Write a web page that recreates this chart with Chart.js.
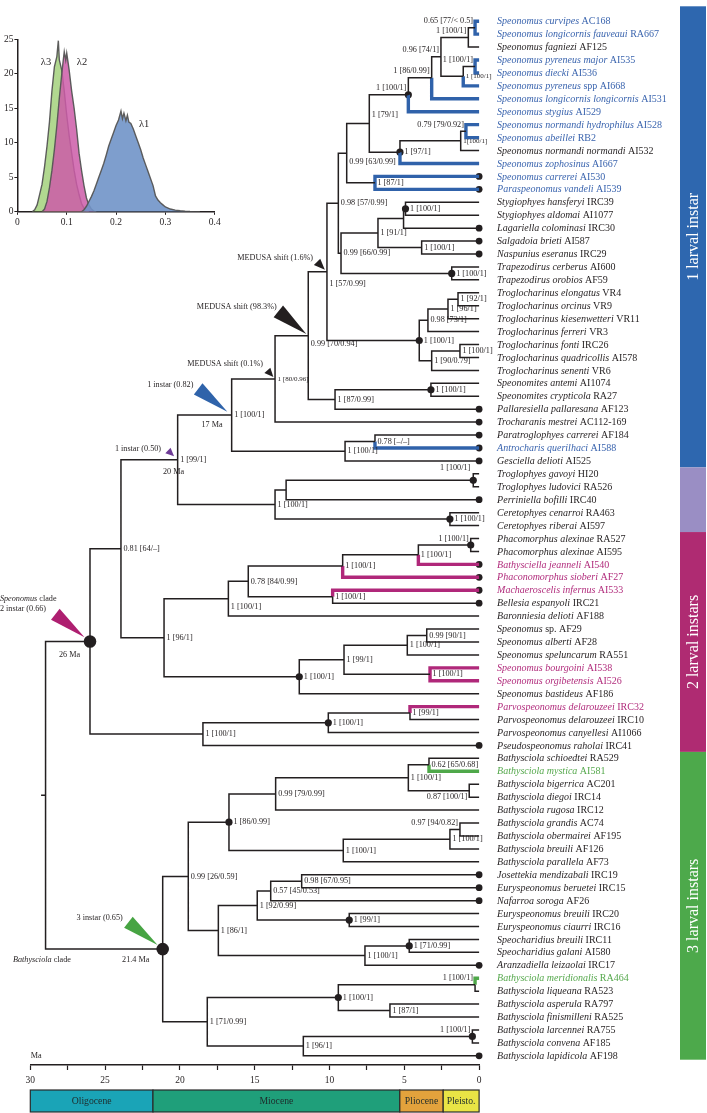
<!DOCTYPE html>
<html><head><meta charset="utf-8">
<script src="https://cdn.jsdelivr.net/npm/chart.js@4/dist/chart.umd.min.js"></script>
<style>
html,body{margin:0;padding:0;background:#fff;}
#wrap{position:relative;width:707px;height:1113px;overflow:hidden;}
#tree{position:absolute;left:0;top:0;}
#inset{position:absolute;left:0;top:0;}
</style></head><body>
<div id="wrap"><canvas id="tree" width="707" height="1113"></canvas><canvas id="inset" width="232" height="232"></canvas></div>
<script>
// ===================== DATA =====================
const tipTaxa = ['Speonomus curvipes','Speonomus longicornis fauveaui','Speonomus fagniezi','Speonomus pyreneus major','Speonomus diecki','Speonomus pyreneus','Speonomus longicornis longicornis','Speonomus stygius','Speonomus normandi hydrophilus','Speonomus abeillei','Speonomus normandi normandi','Speonomus zophosinus','Speonomus carrerei','Paraspeonomus vandeli','Stygiophyes hansferyi','Stygiophyes aldomai','Lagariella colominasi','Salgadoia brieti','Naspunius eseranus','Trapezodirus cerberus','Trapezodirus orobios','Troglocharinus elongatus','Troglocharinus orcinus','Troglocharinus kiesenwetteri','Troglocharinus ferreri','Troglocharinus fonti','Troglocharinus quadricollis','Troglocharinus senenti','Speonomites antemi','Speonomites crypticola','Pallaresiella pallaresana','Trocharanis mestrei','Paratroglophyes carrerei','Antrocharis querilhaci','Gesciella delioti','Troglophyes gavoyi','Troglophyes ludovici','Perriniella bofilli','Ceretophyes cenarroi','Ceretophyes riberai','Phacomorphus alexinae','Phacomorphus alexinae','Bathysciella jeanneli','Phaconomorphus sioberi','Machaeroscelis infernus','Bellesia espanyoli','Baronniesia delioti','Speonomus','Speonomus alberti','Speonomus speluncarum','Speonomus bourgoini','Speonomus orgibetensis','Speonomus bastideus','Parvospeonomus delarouzeei','Parvospeonomus delarouzeei','Parvospeonomus canyellesi','Pseudospeonomus raholai','Bathysciola schioedtei','Bathysciola mystica','Bathysciola bigerrica','Bathysciola diegoi','Bathysciola rugosa','Bathysciola grandis','Bathysciola obermairei','Bathysciola breuili','Bathysciola parallela','Josettekia mendizabali','Euryspeonomus beruetei','Nafarroa soroga','Euryspeonomus breuili','Euryspeonomus ciaurri','Speocharidius breuili','Speocharidius galani','Aranzadiella leizaolai','Bathysciola meridionalis','Bathysciola liqueana','Bathysciola asperula','Bathysciola finismilleni','Bathysciola larcennei','Bathysciola convena','Bathysciola lapidicola'];
const tipCodes = ['AC168','RA667','AF125','AI535','AI536','spp AI668','AI531','AI529','AI528','RB2','AI532','AI667','AI530','AI539','IRC39','AI1077','IRC30','AI587','IRC29','AI600','AF59','VR4','VR9','VR11','VR3','IRC26','AI578','VR6','AI1074',' RA27','AF123','AC112-169','AF184','AI588','AI525','HI20','RA526','IRC40',' RA463','AI597','RA527',' AI595','AI540','AF27','AI533','IRC21','AF188','sp. AF29','AF28',' RA551','AI538','AI526','AF186','IRC32','IRC10','AI1066','IRC41','RA529','AI581','AC201','IRC14','IRC12','AC74','AF195','AF126','AF73','IRC19','IRC15','AF26','IRC20','IRC16','IRC11','AI580','IRC17','RA464','RA523','RA797','RA525','RA755',' AF185','AF198'];
const blueTips = [0,1,3,4,5,6,7,8,9,11,12,13,33];
const magentaTips = [42,43,44,50,51,53];
const greenTips = [58,74];
const tipDots = [12,13,16,17,18,30,31,32,33,34,37,42,43,44,45,56,66,67,68,73,80];

// internal nodes: [id, child A, child B, age (Ma), support]
const nodes = [
 ['cf',0,1,0.27,'0.65 [77/< 0.5]'], ['M','cf',2,0.72,'1 [100/1]'],
 ['Q',3,4,0.27,'1 [100/1]'], ['O','Q',5,1.06,'1 [100/1]'],
 ['N','M','O',2.55,'0.96 [74/1]'], ['R','N',6,3.17,'1 [86/0.99]'],
 ['S','R',7,4.73,'1 [100/1]'], ['W',8,9,0.88,'0.79 [79/0.92]'],
 ['V','W',10,1.23,'1[100/1]'], ['U','V',11,5.29,'1 [97/1]'],
 ['T','S','U',7.34,'1 [79/1]'], ['X',12,13,6.96,'1 [87/1]'],
 ['Y','T','X',8.85,'0.99 [63/0.99]'], ['SP',14,15,4.92,'1 [100/1]'],
 ['Z2','SP',16,5.05,''], ['Z3',17,18,3.84,'1 [100/1]'],
 ['Z1','Z2','Z3',6.76,'1 [91/1]'], ['TZ',19,20,1.83,'1 [100/1]'],
 ['Z','Z1','TZ',9.23,'0.99 [66/0.99]'], ['K','Y','Z',9.41,'0.98 [57/0.99]'],
 ['TR1',21,22,1.41,'1 [92/1]'], ['TR2','TR1',23,2.08,'1 [96/1]'],
 ['TR3','TR2',24,3.42,'0.98 [73/1]'], ['TR4',25,26,1.28,'1 [100/1]'],
 ['TR5','TR4',27,3.17,'1 [90/0.79]'], ['TR','TR3','TR5',4.0,'1 [100/1]'],
 ['I','K','TR',10.17,'1 [57/0.99]'], ['SPM',28,29,3.22,'1 [100/1]'],
 ['J','SPM',30,9.63,'1 [87/0.99]'], ['H','I','J',11.42,'0.99 [70/0.94]'],
 ['F','H',31,13.64,'1 [80/0.96]'], ['AQ',32,33,6.96,'0.78 [\u2013/\u2013]'],
 ['G','AQ',34,8.96,'1 [100/1]'], ['D','F','G',16.54,'1 [100/1]'],
 ['TG',35,36,0.39,'1 [100/1]'], ['TP','TG',37,12.9,''],
 ['CE',38,39,1.95,'1 [100/1]'], ['E','TP','CE',13.64,'1 [100/1]'],
 ['C','D','E',20.15,'1 [99/1]'],
 ['PA',40,41,0.56,'1 [100/1]'], ['PJ','PA',42,4.06,'1 [100/1]'],
 ['PS','PJ',43,9.12,'1 [100/1]'], ['MB2',44,45,9.79,'1 [100/1]'],
 ['MA','PS','MB2',15.43,'0.78 [84/0.99]'], ['MB','MA',46,16.76,'1 [100/1]'],
 ['SA',47,48,3.5,'0.99 [90/1]'], ['SS','SA',49,4.8,'1 [100/1]'],
 ['BO',50,51,3.28,'1 [100/1]'], ['S99','SS','BO',9.03,'1 [99/1]'],
 ['MC','S99',52,12.02,'1 [100/1]'], ['MD','MB','MC',21.06,'1 [96/1]'],
 ['A','C','MD',23.94,'0.81 [64/\u2013]'],
 ['PV',53,54,4.62,'1 [99/1]'], ['PC','PV',55,10.08,'1 [100/1]'],
 ['B','PC',56,18.46,'1 [100/1]'], ['SC','A','B',26.01,''],
 ['SM',57,58,3.35,'0.62 [65/0.68]'], ['BD',59,60,0.66,'0.87 [100/1]'],
 ['G1','SM','BD',4.73,'1 [100/1]'], ['G2','G1',61,13.6,'0.99 [79/0.99]'],
 ['GO',62,63,1.28,'0.97 [94/0.82]'], ['GOB','GO',64,1.95,'1 [100/1]'],
 ['G3','GOB',65,9.08,'1 [100/1]'], ['G4','G2','G3',16.72,'1 [86/0.99]'],
 ['JB',66,67,11.86,'0.98 [67/0.95]'], ['JN','JB',68,13.93,'0.57 [45/0.53]'],
 ['EB',69,70,8.68,'1 [99/1]'], ['J92','JN','EB',14.83,'1 [92/0.99]'],
 ['SPC',71,72,4.67,'1 [71/0.99]'], ['SA2','SPC',73,7.63,'1 [100/1]'],
 ['N86','J92','SA2',17.43,'1 [86/1]'], ['N099','G4','N86',19.44,'0.99 [26/0.59]'],
 ['ML',74,75,0.27,'1 [100/1]'], ['AF',76,77,5.96,'1 [87/1]'],
 ['BL','ML','AF',9.41,'1 [100/1]'], ['LC',78,79,0.45,'1 [100/1]'],
 ['LL','LC',80,11.75,'1 [96/1]'], ['N71','BL','LL',18.17,'1 [71/0.99]'],
 ['BC','N099','N71',21.15,''], ['root','SC','BC',28.98,'']
];
const rootStemAge = 29.28;
const nodeDots = ['S','U','SP','TZ','TR','SPM','TG','CE','PA','MC','PC','G4','EB','SPC','BL','LC'];
const bigNodeDots = ['SC','BC'];
// ancestral state / rate shift markers: [node, kind]
const shiftMarks = [['I','medusaS'],['H','medusaL'],['F','medusaXS'],['D','blue'],['C','purple'],['SC','magenta'],['BC','green']];

const ageMin = 0, ageMax = 30, ageStep = 2.5;
const epochNames = ['Oligocene','Miocene','Pliocene','Pleisto.'];
const epochFrom = [30, 21.8, 5.3, 2.4];
const epochTo = [21.8, 5.3, 2.4, 0];
const bandNames = ['1 larval instar','','2 larval instars','3 larval instars'];
const bandFrom = [-1.153, 34.5, 39.5, 56.5];
const bandTo = [34.5, 39.5, 56.5, 80.3];

// rate posterior histograms (inset)
const lambda1X = [0.130,0.135,0.140,0.145,0.150,0.155,0.160,0.165,0.170,0.175,0.180,0.185,0.190,0.195,0.200,0.205,0.210,0.213,0.216,0.220,0.223,0.226,0.230,0.235,0.240,0.245,0.250,0.255,0.260,0.265,0.270,0.275,0.280,0.285,0.290,0.295,0.300,0.310,0.320,0.330,0.340,0.350,0.360,0.370];
const lambda1Y = [0,0.3,0.8,1.5,2.2,3.0,4.0,5.0,6.0,7.0,8.2,9.5,10.5,11.5,12.5,13.3,14.6,13.5,14.3,13.2,14.0,13.0,12.8,12.0,11.0,10.0,9.0,7.8,6.8,5.8,4.8,3.8,2.3,1.7,1.3,1.0,0.7,0.4,0.25,0.15,0.08,0.04,0.02,0];
const lambda2X = [0.050,0.055,0.060,0.065,0.070,0.075,0.080,0.085,0.090,0.093,0.095,0.098,0.100,0.103,0.105,0.110,0.115,0.120,0.125,0.130,0.135,0.140,0.145,0.150,0.155,0.160];
const lambda2Y = [0,0.4,1.5,3.5,6.0,9.0,12.5,16.5,20.0,22.0,23.2,22.0,23.0,21.5,20.5,17.5,15.0,12.0,8.5,6.0,3.8,2.0,1.0,0.4,0.1,0];
const lambda3X = [0.030,0.035,0.040,0.045,0.050,0.055,0.060,0.065,0.070,0.075,0.080,0.083,0.085,0.090,0.095,0.100,0.105,0.110,0.115,0.120,0.125,0.130,0.135,0.140,0.145];
const lambda3Y = [0,0.3,1.0,2.5,4.0,6.5,9.5,13.0,17.5,21.0,22.5,24.8,22.0,20.5,17.5,14.0,11.0,8.5,6.0,4.0,2.5,1.2,0.5,0.1,0];
const lambdaNames = ['\u03bb1','\u03bb2','\u03bb3'];

// ===================== LAYOUT / STYLE =====================
const FONT = '"Liberation Serif", "Times New Roman", serif';
const INK = '#231F20';
const COL = {k: INK, b: '#3062AA', m: '#B0287A', g: '#4FA84A'};
const TIPCOL = {k: INK, b: '#3A64AE', m: '#B12C7C', g: '#55A84C'};
const labelPlace = {cf:'L', M:'L', Q:'L', N:'L', R:'L', S:'L', W:'L', T:'RA', Y:'RB', I:'RBB', H:'RB', TG:'LT', PA:'L', MB:'RB', BD:'LB', GO:'L', ML:'L', LC:'L'};
const smallLabels = ['F','O','V'];
const markStyle = {
  medusaS: {len:11, wid:9, gap:3, ang:45, color:INK},
  medusaL: {len:36, wid:15, gap:2.5, ang:39, color:INK},
  medusaXS:{len:9, wid:8, gap:2.5, ang:48, color:INK},
  blue:    {len:37, wid:14, gap:5.5, ang:38, color:'#2F63AA'},
  purple:  {len:8.5, wid:7.5, gap:5, ang:44, color:'#6E3B96'},
  magenta: {len:37, wid:14, gap:7, ang:38, color:'#AE1F70'},
  green:   {len:37, wid:14, gap:6.5, ang:38, color:'#47A443'}
};
const annotations = [
 [[['MEDUSA shift (1.6%)',0]], 11.10, 18.27, 'right'],
 [[['MEDUSA shift (98.3%)',0]], 13.53, 22.12, 'right'],
 [[['MEDUSA shift (0.1%)',0]], 14.45, 26.52, 'right'],
 [[['1 instar (0.82)',0]], 19.10, 28.13, 'right'],
 [[['17 Ma',0]], 17.85, 31.19, 'center'],
 [[['1 instar (0.50)',0]], 21.26, 33.08, 'right'],
 [[['20 Ma',0]], 20.43, 34.82, 'center'],
 [[['Speonomus',1],[' clade',0]], 32.03, 44.66, 'left'],
 [[['2 instar (0.66)',0]], 32.03, 45.43, 'left'],
 [[['26 Ma',0]], 27.38, 48.97, 'center'],
 [[['3 instar (0.65)',0]], 23.82, 69.31, 'right'],
 [[['21.4 Ma',0]], 22.95, 72.57, 'center'],
 [[['Bathysciola',1],[' clade',0]], 31.16, 72.57, 'left'],
 [[['Ma',0]], 29.97, 80.02, 'left']
];
const lambdaLabelPos = [[0.257,12.68],[0.131,21.67],[0.058,21.67]];
const epochColors = ['#1AA4B7','#1F9F7A','#E3A23C','#E9E445'];
const bandColors = ['#2E67AF','#9A8EC4','#AF2B72','#4DA94B'];

// ===================== BUILD TREE =====================
const byId = {};
nodes.forEach(n => byId[n[0]] = {id:n[0], kids:[n[1], n[2]], age:n[3], label:n[4]});
function yOf(c){ if (typeof c === 'number') return c; const nd = byId[c]; if (nd.y === undefined) nd.y = (yOf(nd.kids[0]) + yOf(nd.kids[1])) / 2; return nd.y; }
function ageOf(c){ return typeof c === 'number' ? 0 : byId[c].age; }
Object.keys(byId).forEach(yOf);
function tipGroup(i){ return blueTips.includes(i) ? 'b' : magentaTips.includes(i) ? 'm' : greenTips.includes(i) ? 'g' : 'k'; }
const segs = {k:[], b:[], m:[], g:[]};
Object.values(byId).forEach(nd => nd.kids.forEach(c => {
  const grp = typeof c === 'number' ? tipGroup(c) : 'k';
  segs[grp].push({x:nd.age, y:nd.y}, {x:nd.age, y:yOf(c)}, {x:ageOf(c), y:yOf(c)}, {x:NaN, y:NaN});
}));
segs.k.push({x:rootStemAge, y:byId.root.y}, {x:byId.root.age, y:byId.root.y}, {x:NaN, y:NaN});

function lineDs(pts, color, w){
  return {data:pts, showLine:true, spanGaps:false, borderColor:color, borderWidth:w, pointRadius:0, pointHoverRadius:0,
          fill:false, tension:0, clip:false, borderCapStyle:'butt', borderJoinStyle:'miter'};
}
function dotDs(pts, r){
  return {data:pts, showLine:false, pointRadius:r, pointHoverRadius:r, backgroundColor:INK, borderWidth:0, clip:false};
}

function drawRich(ctx, parts, x, y, align, size, color){
  const w = parts.map(([t,it]) => { ctx.font = (it ? 'italic ' : '') + size + 'px ' + FONT; return ctx.measureText(t).width; });
  const total = w.reduce((a,b) => a + b, 0);
  let sx = align === 'right' ? x - total : align === 'center' ? x - total/2 : x;
  ctx.textAlign = 'left'; ctx.textBaseline = 'middle'; ctx.fillStyle = color;
  parts.forEach(([t,it],k) => { ctx.font = (it ? 'italic ' : '') + size + 'px ' + FONT; ctx.fillText(t, sx, y); sx += w[k]; });
}

const treeDecor = {
  id:'treeDecor',
  afterDraw(chart){
    const ctx = chart.ctx, xs = chart.scales.x, ys = chart.scales.y;
    const px = a => xs.getPixelForValue(a), py = i => ys.getPixelForValue(i);
    ctx.save();
    // shift markers
    shiftMarks.forEach(([id, kind]) => {
      const s = markStyle[kind], nd = byId[id];
      const th = s.ang * Math.PI / 180, cx = Math.cos(th), cy = Math.sin(th);
      const ax = px(nd.age) - s.gap*cx, ay = py(nd.y) - s.gap*cy;
      const bx = ax - s.len*cx, by = ay - s.len*cy;
      ctx.beginPath(); ctx.moveTo(ax, ay);
      ctx.lineTo(bx - s.wid/2*(-cy), by - s.wid/2*cx);
      ctx.lineTo(bx + s.wid/2*(-cy), by + s.wid/2*cx);
      ctx.closePath(); ctx.fillStyle = s.color; ctx.fill();
    });
    // node support labels
    Object.values(byId).forEach(nd => {
      if (!nd.label) return;
      const x = px(nd.age), y = py(nd.y), pos = labelPlace[nd.id] || 'R';
      const size = smallLabels.includes(nd.id) ? 7 : 8.2;
      const off = nodeDots.includes(nd.id) ? 4.5 : 2.5;
      let tx, ty, al;
      if (pos === 'R') { tx = x + off; ty = y; al = 'left'; }
      else if (pos === 'RA') { tx = x + off; ty = y - 9; al = 'left'; }
      else if (pos === 'RB') { tx = x + off; ty = y + 8.5; al = 'left'; }
      else if (pos === 'RBB') { tx = x + off; ty = y + 12.5; al = 'left'; }
      else if (pos === 'L') { tx = x - 2; ty = y - 6.5; al = 'right'; }
      else if (pos === 'LB') { tx = x - 2; ty = y + 6.5; al = 'right'; }
      else { tx = x - 3; ty = py(yOf(nd.kids[0])) - 6; al = 'right'; }
      drawRich(ctx, [[nd.label, 0]], tx, ty, al, size, INK);
    });
    // tip labels
    const lx = px(0) + 18;
    tipTaxa.forEach((t, i) => {
      const c = TIPCOL[tipGroup(i)];
      drawRich(ctx, [[t + ' ', 1], [tipCodes[i].trim(), 0]], lx, py(i) + 0.5, 'left', 10, c);
    });
    // annotations
    annotations.forEach(([parts, a, i, al]) => drawRich(ctx, parts, px(a), py(i), al, 8.2, INK));
    // geological epochs
    const eTop = 1090, eBot = 1112;
    epochNames.forEach((nm, k) => {
      const x0 = px(epochFrom[k]), x1 = px(epochTo[k]);
      ctx.fillStyle = epochColors[k]; ctx.fillRect(x0, eTop, x1 - x0, eBot - eTop);
      ctx.strokeStyle = '#2a2a2a'; ctx.lineWidth = 1.2; ctx.strokeRect(x0, eTop, x1 - x0, eBot - eTop);
      drawRich(ctx, [[nm, 0]], (x0 + x1)/2, (eTop + eBot)/2 + 0.5, 'center', 9.7, '#1e2b2b');
    });
    // instar bands on the right
    bandNames.forEach((nm, k) => {
      const y0 = Math.max(0, py(bandFrom[k])), y1 = py(bandTo[k]);
      ctx.fillStyle = bandColors[k]; ctx.fillRect(680, y0, 26, y1 - y0);
      if (nm) {
        ctx.save(); ctx.translate(693.5, (y0 + y1)/2); ctx.rotate(-Math.PI/2);
        ctx.font = '16px ' + FONT; ctx.fillStyle = '#fff'; ctx.textAlign = 'center'; ctx.textBaseline = 'middle';
        ctx.fillText(nm, 0, 0); ctx.restore();
      }
    });
    ctx.restore();
  }
};

new Chart(document.getElementById('tree'), {
  type:'scatter',
  data:{datasets:[
    lineDs(segs.k, COL.k, 1.5),
    lineDs(segs.b, COL.b, 3.4),
    lineDs(segs.m, COL.m, 3.4),
    lineDs(segs.g, COL.g, 3.4),
    dotDs(tipDots.map(i => ({x:0, y:i})), 3.4),
    dotDs(nodeDots.map(id => ({x:byId[id].age, y:byId[id].y})), 3.6),
    dotDs(bigNodeDots.map(id => ({x:byId[id].age, y:byId[id].y})), 6.3)
  ]},
  options:{
    animation:false, responsive:false, devicePixelRatio:1, events:[],
    layout:{padding:{left:30.3, right:227.9, top:0, bottom:0}},
    plugins:{legend:{display:false}, tooltip:{enabled:false}},
    scales:{
      x:{type:'linear', reverse:true, min:ageMin, max:ageMax, position:'bottom',
         afterFit(s){ s.height = 48; },
         border:{display:true, color:INK, width:1.5},
         grid:{display:true, drawOnChartArea:false, drawTicks:true, tickLength:5, tickColor:INK, tickWidth:1.2, color:INK},
         ticks:{stepSize:ageStep, autoSkip:false, maxRotation:0, padding:5, color:INK, font:{family:FONT, size:9.5},
                callback:v => (v % 5 === 0 ? String(v) : '')}},
      y:{type:'linear', reverse:true, min:-1.153, max:80.71, display:false}
    }
  },
  plugins:[treeDecor]
});

// ===================== INSET =====================
const insetLabels = {
  id:'insetLabels',
  afterDraw(chart){
    const ctx = chart.ctx, xs = chart.scales.x, ys = chart.scales.y;
    lambdaNames.forEach((nm, k) => {
      const [a, b] = lambdaLabelPos[k];
      drawRich(ctx, [[nm, 0]], xs.getPixelForValue(a), ys.getPixelForValue(b), 'center', 10.5, INK);
    });
  }
};
function histDs(xa, ya, fillCol){
  return {data: xa.map((x, i) => ({x, y: ya[i]})), showLine:true, fill:'origin', backgroundColor:fillCol,
          borderColor:'rgba(85,85,85,0.95)', borderWidth:1.4, pointRadius:0, tension:0};
}
new Chart(document.getElementById('inset'), {
  type:'scatter',
  data:{datasets:[
    histDs(lambda1X, lambda1Y, 'rgba(112,148,200,0.9)'),
    histDs(lambda2X, lambda2Y, 'rgba(204,92,168,0.85)'),
    histDs(lambda3X, lambda3Y, 'rgba(140,198,92,0.68)')
  ]},
  options:{
    animation:false, responsive:false, devicePixelRatio:1, events:[],
    layout:{padding:{left:0, right:17.3, top:39.3, bottom:0}},
    plugins:{legend:{display:false}, tooltip:{enabled:false}},
    scales:{
      x:{type:'linear', min:0, max:0.4, afterFit(s){ s.height = 20.2; },
         border:{display:true, color:INK, width:1.5},
         grid:{drawOnChartArea:false, tickLength:3, tickColor:INK, color:INK},
         ticks:{stepSize:0.1, padding:2, color:INK, maxRotation:0, font:{family:FONT, size:9.5},
                callback:v => String(Math.round(v*10)/10)}},
      y:{type:'linear', min:0, max:25, afterFit(s){ s.width = 17.4; },
         border:{display:true, color:INK, width:1.5},
         grid:{drawOnChartArea:false, tickLength:3, tickColor:INK, color:INK},
         ticks:{stepSize:5, padding:1, color:INK, font:{family:FONT, size:9.5}}}
    }
  },
  plugins:[insetLabels]
});
</script>
</body></html>
